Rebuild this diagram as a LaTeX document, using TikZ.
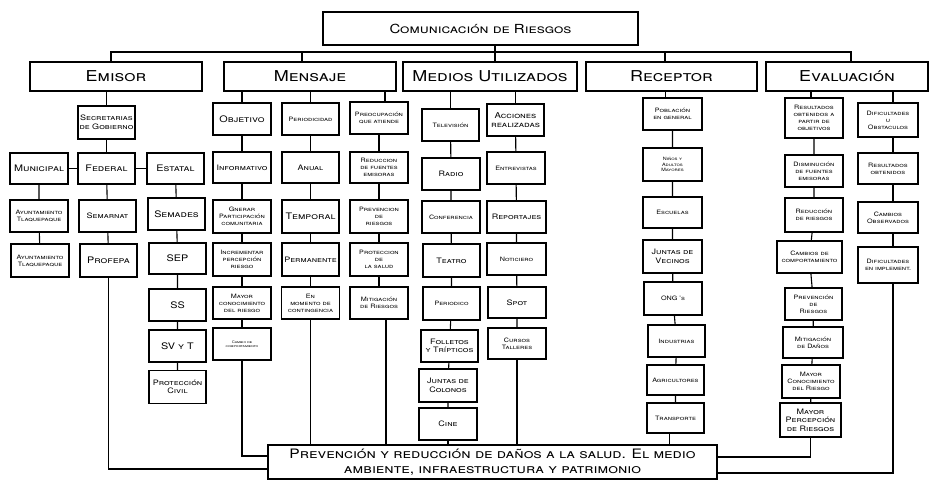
\documentclass[tikz,border=0pt]{standalone}
\usepackage{fontspec}
\setmainfont{TeX Gyre Heros}[FakeStretch=1.2]

\tikzset{
  caja/.style={draw, line width=1.1pt, align=center, inner sep=1pt, minimum width=58pt, minimum height=32pt, font=\scshape\fontsize{7.5}{8.5}\selectfont},
  grande/.style={font=\scshape\fontsize{9}{10.5}\selectfont},
  chica/.style={font=\scshape\fontsize{6}{7}\selectfont},
  titulo/.style={draw, line width=1.1pt, minimum height=29pt, font=\scshape\fontsize{15}{17}\selectfont},
  linea/.style={line width=1.1pt},
}

\begin{document}
\begin{tikzpicture}[x=1pt,y=-1pt]
	\useasboundingbox (0,0) rectangle (932,481);
	
	%%%%% cabecera %%%%%
	\node[titulo, minimum width=315pt, minimum height=33pt, font=\scshape\fontsize{12.5}{14}\selectfont] (com) at (480.5,28.5) {Comunicación de Riesgos};
	
	\node[titulo, minimum width=172pt] (emisor) at (116,76.5) {Emisor};
	\node[titulo, minimum width=172pt] (mensaje) at (310,76.5) {Mensaje};
	\node[titulo, minimum width=174pt] (medios) at (490,76.5) {Medios Utilizados};
	\node[titulo, minimum width=171pt] (receptor) at (671.5,76.5) {Receptor};
	\node[titulo, minimum width=162pt] (evaluacion) at (847,76.5) {Evaluación};
	
	\coordinate (bus) at (495,52);
	\draw[linea] ([xshift=14.5pt]com.south) -- (bus);
	\draw[linea] ([xshift=-5pt]emisor.north) |- (bus) -| ([xshift=4pt]evaluacion.north);
	\draw[linea] ([xshift=-8pt]mensaje.north) -- ([xshift=-8pt]mensaje.north |- bus);
	\draw[linea] ([xshift=5pt]medios.north) -- ([xshift=5pt]medios.north |- bus);
	\draw[linea] ([xshift=-6.5pt]receptor.north) -- ([xshift=-6.5pt]receptor.north |- bus);
	
	%%%%% emisor %%%%%
	\node[caja, minimum width=57pt, minimum height=33pt] (secgob) at (106.5,122.5) {Secretarias\\de Gobierno};
	\node[caja, grande, minimum height=31pt] (municipal) at (39,168.5) {Municipal};
	\node[caja, grande, minimum width=57pt, minimum height=31pt] (federal) at (106.5,168.5) {Federal};
	\node[caja, grande, minimum width=57pt, minimum height=31pt] (estatal) at (175.5,168.5) {Estatal};
	\node[caja, chica] (ayto1) at (39,216) {Ayuntamiento\\Tlaquepaque};
	\node[caja, chica, minimum height=33pt] (ayto2) at (40,260.5) {Ayuntamiento\\Tlaquepaque};
	\node[caja, minimum width=57pt] (semarnat) at (107.5,216) {Semarnat};
	\node[caja, grande, minimum width=57pt, minimum height=33pt] (profepa) at (108.5,260.5) {Profepa};
	\node[caja, grande, minimum width=57pt] (semades) at (176.5,214) {Semades};
	\node[caja, grande, minimum width=57pt, minimum height=31pt] (sep) at (177.5,258.5) {SEP};
	\node[caja, grande, minimum width=57pt] (ss) at (177.5,305) {SS};
	\node[caja, grande, minimum width=57pt] (svyt) at (177.5,346) {SV y T};
	\node[caja, minimum width=57pt, minimum height=33pt] (pcivil) at (177.5,387) {Protección\\Civil};
	
	\draw[linea] (secgob.north) -- (secgob.north |- emisor.south);
	\draw[linea] (secgob) -- (federal);
	\draw[linea] (municipal) -- (federal) -- (estatal);
	\draw[linea] (municipal) -- (ayto1) -- (ayto2);
	\draw[linea] (federal) -- (semarnat) -- (profepa);
	\draw[linea] (estatal) -- (semades) -- (sep) -- (ss) -- (svyt) -- (pcivil);
	
	%%%%% mensaje %%%%%
	\node[caja, grande] (objetivo) at (242,119) {Objetivo};
	\node[caja, chica, minimum width=57pt] (periodicidad) at (310.5,119) {Periodicidad};
	\node[caja, chica] (preocup) at (379,118) {Preocupación\\que atiende};
	\node[caja, minimum height=31pt] (informativo) at (242,167.5) {Informativo};
	\node[caja, minimum width=57pt, minimum height=31pt] (anual) at (310.5,167.5) {Anual};
	\node[caja, chica, minimum height=31pt] (reduccion) at (379,167.5) {Reduccion\\de fuentes\\emisoras};
	\node[caja, chica, minimum height=33pt] (generar) at (242,216.5) {Gnerar\\Participación\\comunitaria};
	\node[caja, grande, minimum width=57pt, minimum height=33pt] (temporal) at (310.5,216.5) {Temporal};
	\node[caja, chica, minimum height=33pt] (prevriesgos) at (379,216.5) {Prevencion\\de\\riesgos};
	\node[caja, chica, minimum height=33pt] (incrementar) at (242,259.5) {Incrementar\\percepción\\riesgo};
	\node[caja, minimum width=57pt, minimum height=33pt] (permanente) at (310.5,259.5) {Permanente};
	\node[caja, chica, minimum height=33pt] (protsalud) at (379,259.5) {Proteccion\\de\\la salud};
	\node[caja, chica] (mayorcon) at (242,303) {Mayor\\conocimiento\\del riesgo};
	\node[caja, chica] (momento) at (310.5,303) {En\\momento de\\contingencia};
	\node[caja, chica] (mitriesgos) at (379,303) {Mitigación\\de Riesgos};
	\node[caja, font=\scshape\fontsize{3.5}{4.5}\selectfont] (cambiocomp) at (242,344) {Cambio de\\comportamiento};
	
	\draw[linea] (objetivo.north) -- (objetivo.north |- mensaje.south);
	\draw[linea] (periodicidad.north) -- (periodicidad.north |- mensaje.south);
	\draw[linea] ([xshift=6pt]preocup.north) -- ([xshift=6pt]preocup.north |- mensaje.south);
	\draw[linea] (objetivo) -- (informativo) -- (generar) -- (incrementar) -- (mayorcon) -- (cambiocomp);
	\draw[linea] (periodicidad) -- (anual) -- (temporal) -- (permanente) -- (momento);
	\draw[linea] (preocup) -- (reduccion) -- (prevriesgos) -- (protsalud) -- (mitriesgos);
	
	%%%%% medios %%%%%
	\node[caja, chica, minimum width=57pt] (television) at (450.5,125) {Televisión};
	\node[caja, font=\scshape\fontsize{8}{9.5}\selectfont, minimum width=57pt] (acciones) at (515.5,120) {Acciones\\realizadas};
	\node[caja] (radio) at (451,174) {Radio};
	\node[caja, chica] (entrevistas) at (516,168) {Entrevistas};
	\node[caja, chica] (conferencia) at (451,217) {Conferencia};
	\node[caja, minimum width=59pt] (reportajes) at (516.5,217) {Reportajes};
	\node[caja, minimum width=57pt, minimum height=33pt] (teatro) at (451.5,260.5) {Teatro};
	\node[caja, chica, minimum width=59pt] (noticiero) at (516.5,259) {Noticiero};
	\node[caja, chica, minimum width=57pt, minimum height=33pt] (periodico) at (451.5,303.5) {Periodico};
	\node[caja, minimum height=31pt] (spot) at (517,302.5) {Spot};
	\node[caja, minimum width=57pt] (folletos) at (449.5,346) {Folletos\\y Trípticos};
	\node[caja, chica, minimum height=31pt] (cursos) at (517,343.5) {Cursos\\Talleres};
	\node[caja, font=\scshape\fontsize{7.5}{9}\selectfont, minimum height=33pt] (juntascol) at (448,385.5) {Juntas de\\Colonos};
	\node[caja] (cine) at (448,424) {Cine};
	
	\draw[linea] (television.north) -- (television.north |- medios.south);
	\draw[linea] (acciones.north) -- (acciones.north |- medios.south);
	\draw[linea] (television) -- (radio) -- (conferencia) -- (teatro) -- (periodico) -- (folletos) -- (juntascol) -- (cine);
	\draw[linea] (acciones) -- (entrevistas) -- (reportajes) -- (noticiero) -- (spot) -- (cursos);
	
	%%%%% receptor %%%%%
	\node[caja, chica, minimum width=59pt] (poblacion) at (672.5,114) {Población\\en general};
	\node[caja, font=\scshape\fontsize{4.5}{5.5}\selectfont, minimum width=59pt, minimum height=33pt] (ninos) at (672.5,164.5) {Niños y\\Adultos\\Mayores};
	\node[caja, chica, minimum width=59pt, minimum height=31pt] (escuelas) at (672.5,212.5) {Escuelas};
	\node[caja, font=\scshape\fontsize{7.5}{9}\selectfont, minimum width=59pt, minimum height=33pt] (juntasvec) at (672.5,256.5) {Juntas de\\Vecinos};
	\node[caja, chica, minimum width=58pt, minimum height=33pt] (ongs) at (673,298.5) {ONG 's};
	\node[caja, chica, minimum width=57pt] (industrias) at (676.5,341) {Industrias};
	\node[caja, chica, minimum width=57pt, minimum height=30pt] (agricultores) at (675.5,380) {Agricultores};
	\node[caja, chica, minimum width=57pt, minimum height=30pt] (transporte) at (675.5,418) {Transporte};
	
	\draw[linea] ([xshift=-7pt]poblacion.north) -- ([xshift=-7pt]poblacion.north |- receptor.south);
	\draw[linea] (poblacion) -- (ninos) -- (escuelas) -- (juntasvec) -- (ongs) -- (industrias) -- (agricultores) -- (transporte);
	
	%%%%% evaluacion %%%%%
	\node[caja, chica, minimum height=40pt] (resobj) at (814,118) {Resultados\\obtenidos a\\partir de\\objetivos};
	\node[caja, chica, minimum width=60pt, minimum height=34pt] (dificu) at (888,120) {Dificultades\\u\\Obstaculos};
	\node[caja, chica] (disminucion) at (814,171) {Disminución\\de fuentes\\emisoras};
	\node[caja, chica, minimum width=60pt, minimum height=31pt] (resobt) at (888,168.5) {Resultados\\obtenidos};
	\node[caja, chica, minimum height=34pt] (redriesgos) at (814,215) {Reducción\\de riesgos};
	\node[caja, chica, minimum width=60pt, minimum height=31pt] (cambobs) at (888,217.5) {Cambios\\Observados};
	\node[caja, font=\scshape\fontsize{6}{7.5}\selectfont, minimum width=65pt] (cambcomp) at (809.5,257) {Cambios de\\comportamiento};
	\node[caja, chica, minimum width=60pt, minimum height=36pt] (difimpl) at (888,265) {Dificultades\\en implement.};
	\node[caja, chica, minimum width=57pt] (prevr) at (813.5,304) {Prevención\\de\\Riesgos};
	\node[caja, chica, minimum width=60pt, minimum height=31pt] (mitdanos) at (813,342.5) {Mitigación\\de Daños};
	\node[caja, chica, minimum height=33pt] (mayconoc) at (811,381.5) {Mayor\\Conocimiento\\del Riesgo};
	\node[caja, minimum width=61pt, minimum height=34pt] (maypercep) at (810.5,420) {Mayor\\Percepción\\de Riesgos};
	
	\draw[linea] ([xshift=-3pt]resobj.north) -- ([xshift=-3pt]resobj.north |- evaluacion.south);
	\draw[linea] ([xshift=5pt]dificu.north) -- ([xshift=5pt]dificu.north |- evaluacion.south);
	\draw[linea] (resobj) -- (disminucion) -- (redriesgos) -- (cambcomp) -- (prevr) -- (mitdanos) -- (mayconoc) -- (maypercep);
	\draw[linea] ([xshift=5pt]dificu.south) -- ([xshift=5pt]resobt.north);
	\draw[linea] ([xshift=5pt]resobt.south) -- ([xshift=5pt]cambobs.north);
	\draw[linea] ([xshift=5pt]cambobs.south) -- ([xshift=5pt]difimpl.north);
	
	%%%%% prevencion %%%%%
	\node[caja, minimum width=449pt, minimum height=34pt, font=\scshape\fontsize{13}{15}\selectfont] (prev) at (492.5,462) {Prevención y reducción de daños a la salud. El medio\\ambiente, infraestructura y patrimonio};
	
	\draw[linea] (profepa.south) |- ([yshift=-7pt]prev.west);
	\draw[linea] (cambiocomp.south) |- ([yshift=6pt]prev.west);
	\draw[linea] (momento.south) -- (momento.south |- prev.north);
	\draw[linea] ([xshift=7pt]mitriesgos.south) -- ([xshift=7pt]mitriesgos.south |- prev.north);
	\draw[linea] (cine.south) -- (prev.north -| cine.south);
	\draw[linea] (cursos.south) -- (prev.north -| cursos.south);
	\draw[linea] ([xshift=-6pt]transporte.south) -- ([xshift=-6pt]transporte.south |- prev.north);
	\draw[linea] (maypercep.south) |- ([yshift=5pt]prev.east);
	\draw[linea] ([xshift=5pt]difimpl.south) |- ([yshift=-11pt]prev.east);
	
\end{tikzpicture}
\end{document}
